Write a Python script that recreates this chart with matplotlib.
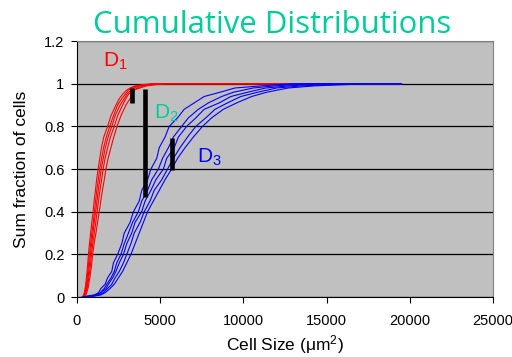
import matplotlib
matplotlib.use("Agg")
import matplotlib.pyplot as plt

plt.rcParams['font.family'] = ['Liberation Sans', 'DejaVu Sans']
plt.rcParams['mathtext.fontset'] = 'custom'
plt.rcParams['mathtext.rm'] = 'Liberation Sans'
plt.rcParams['mathtext.it'] = 'Liberation Sans'

# cumulative fraction levels shared by each group of curves
red_levels = [0, 0.02, 0.05, 0.1, 0.15, 0.2, 0.25, 0.3, 0.35, 0.4, 0.45, 0.5, 0.55, 0.6,
              0.65, 0.7, 0.75, 0.8, 0.85, 0.9, 0.93, 0.95, 0.97, 0.98, 0.99, 0.995, 1.0, 1.0]
red_sizes = [
    [350, 450, 520, 590, 650, 700, 760, 830, 900, 980, 1040, 1120, 1190, 1280,
     1380, 1480, 1620, 1850, 2050, 2350, 2550, 2750, 3000, 3200, 3500, 3900, 4500, 19500],
    [400, 480, 560, 640, 700, 760, 830, 900, 990, 1060, 1130, 1200, 1290, 1380,
     1490, 1610, 1770, 1980, 2200, 2450, 2700, 2900, 3100, 3300, 3650, 4100, 4700, 19500],
    [420, 520, 600, 690, 760, 820, 890, 970, 1050, 1130, 1210, 1290, 1380, 1470,
     1590, 1710, 1880, 2100, 2300, 2600, 2850, 3000, 3250, 3450, 3800, 4300, 5000, 19500],
    [450, 550, 640, 740, 820, 880, 960, 1050, 1140, 1220, 1300, 1390, 1490, 1580,
     1700, 1850, 2020, 2250, 2450, 2750, 2950, 3100, 3400, 3650, 4000, 4500, 5100, 19500],
    [480, 600, 700, 800, 890, 950, 1040, 1150, 1250, 1350, 1440, 1540, 1650, 1750,
     1880, 2050, 2220, 2420, 2650, 2950, 3200, 3300, 3400, 3800, 4200, 4700, 5400, 19500],
]

blue_levels = [0, 0.005, 0.01, 0.02, 0.04, 0.06, 0.09, 0.12, 0.16, 0.2, 0.25, 0.3, 0.35, 0.4,
               0.45, 0.5, 0.55, 0.6, 0.65, 0.7, 0.75, 0.8, 0.84, 0.88, 0.91, 0.94, 0.96,
               0.98, 0.99, 1.0, 1.0]
blue_sizes = [
    [300, 650, 1050, 1300, 1450, 1700, 1850, 2100, 2200, 2450, 2700, 2850, 3200, 3400, 3750,
     3900, 4250, 4450, 4800, 4950, 5300, 5550, 6050, 6450, 7050, 7650, 8600, 9500, 11100, 12900, 19500],
    [400, 800, 1150, 1400, 1650, 1800, 2050, 2250, 2400, 2650, 2850, 3100, 3350, 3700, 3900,
     4250, 4500, 4900, 5150, 5500, 5800, 6300, 6700, 7300, 7900, 8700, 9400, 10600, 11900, 14000, 19500],
    [450, 900, 1250, 1450, 1750, 1900, 2150, 2350, 2550, 2800, 3000, 3300, 3500, 3900, 4100,
     4450, 4750, 5200, 5400, 5850, 6100, 6600, 7150, 7650, 8550, 9250, 10250, 11350, 12750, 15000, 19500],
    [500, 1000, 1350, 1600, 1850, 2100, 2300, 2550, 2800, 3000, 3250, 3450, 3800, 4050, 4400,
     4650, 5100, 5450, 5800, 6200, 6650, 7150, 7750, 8300, 9050, 9850, 10850, 12000, 13550, 16500, 19500],
    [600, 1100, 1450, 1700, 2000, 2250, 2500, 2750, 3000, 3250, 3500, 3750, 4000, 4250, 4600,
     4950, 5300, 5700, 6050, 6500, 7000, 7550, 8100, 8800, 9600, 10500, 11400, 12700, 14300, 17500, 19500],
]

# vertical bars marking the largest gaps (x, low, high)
gap_x = [3300, 4120, 5740]
gap_lo = [0.91, 0.47, 0.595]
gap_hi = [0.98, 0.975, 0.745]

teal = '#00CC99'

fig = plt.figure(figsize=(5.12, 3.57), dpi=100)
ax = fig.add_axes([0.150, 0.168, 0.813, 0.717])
ax.set_facecolor('#C0C0C0')

for xs in red_sizes:
    ax.plot(xs, red_levels, color='#FF0000', lw=0.8)
for xs in blue_sizes:
    ax.plot(xs, blue_levels, color='#0000FF', lw=0.8)

ax.vlines(gap_x, gap_lo, gap_hi, color='black', lw=3.3, zorder=5)

ax.text(1560, 1.078, r'D$_1$', color='#FF0000', fontsize=15)
ax.text(4630, 0.835, r'D$_2$', color=teal, fontsize=15)
ax.text(7210, 0.628, r'D$_3$', color='#0000FF', fontsize=15)

ax.set_xlim(0, 25000)
ax.set_ylim(0, 1.2)
ax.set_xticks([0, 5000, 10000, 15000, 20000, 25000])
ax.set_yticks([0, 0.2, 0.4, 0.6, 0.8, 1, 1.2])
ax.set_yticklabels(['0', '0.2', '0.4', '0.6', '0.8', '1', '1.2'])
ax.yaxis.grid(True, color='black', lw=0.9)
ax.set_axisbelow(True)
ax.tick_params(labelsize=10.5, length=4.5, width=0.8, direction='out')
ax.tick_params(axis='x', pad=8)
ax.tick_params(axis='y', pad=4.5)
for side in ['top', 'right']:
    ax.spines[side].set_color('#808080')
    ax.spines[side].set_linewidth(0.8)

ax.set_xlabel(r'Cell Size ($\mu$m$^2$)', fontsize=12.5, labelpad=3.5)
ax.set_ylabel('Sum fraction of cells', fontsize=12.5, labelpad=11)

fig.text(0.531, 1 - 33 / 357, 'Cumulative Distributions', color=teal,
         fontsize=22.4, ha='center', va='baseline', family=['Open Sans', 'DejaVu Sans'])

fig.savefig('out.png', dpi=100)
